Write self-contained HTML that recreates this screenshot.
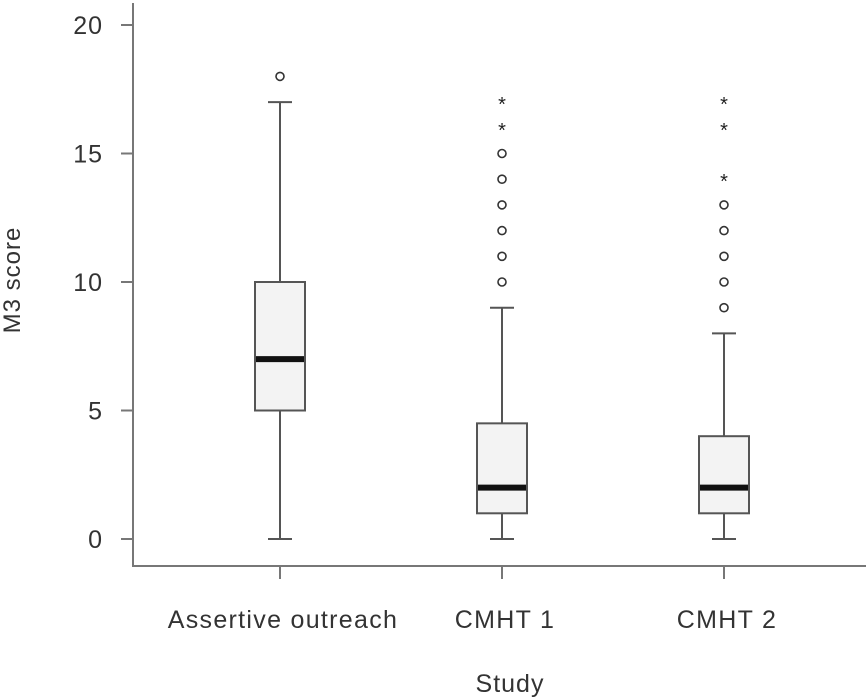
<!DOCTYPE html>
<html><head><meta charset="utf-8"><style>
body{margin:0;background:#fff;}
svg{display:block;font-family:"Liberation Sans",sans-serif;}
</style></head><body>
<svg id="chart" width="866" height="697" viewBox="0 0 866 697" xmlns="http://www.w3.org/2000/svg">
<g id="axes"></g>
<g id="marks"></g>
<text transform="translate(20,280) rotate(-90)" text-anchor="middle" font-size="24" letter-spacing="1" fill="#333">M3 score</text>
<text x="510" y="692" text-anchor="middle" font-size="25" letter-spacing="1" fill="#333">Study</text>
</svg>
<script>
const categories=["Assertive outreach","CMHT 1","CMHT 2"];
const mins=[0,0,0];
const q1s=[5,1,1];
const medians=[7,2,2];
const q3s=[10,4.5,4];
const maxs=[17,9,8];
const circleOutliers=[[18],[10,11,12,13,14,15],[9,10,11,12,13]];
const starOutliers=[[],[16,17],[14,16,17]];
const yTicks=[0,5,10,15,20];

const NS="http://www.w3.org/2000/svg";
const y=v=>539-v*25.7;
const x=i=>280+i*222;
const axes=document.getElementById('axes'),marks=document.getElementById('marks');
function mk(p,tag,at){const e=document.createElementNS(NS,tag);for(const k in at)e.setAttribute(k,at[k]);p.appendChild(e);return e;}
let e;
e=mk(axes,'line',{x1:133,y1:3,x2:133,y2:566,stroke:'#777','stroke-width':2});


e=mk(axes,'line',{x1:132,y1:566,x2:866,y2:566,stroke:'#777','stroke-width':2});


yTicks.forEach(t=>{
  e=mk(axes,'line',{x1:121,y1:y(t),x2:133,y2:y(t),stroke:'#777','stroke-width':2});
  
  
  e=mk(axes,'text',{x:103,y:y(t)+9,'text-anchor':'end','font-size':25,'letter-spacing':1,fill:'#333'});
  e.textContent=t;
  
  
});
categories.forEach((c,i)=>{
  const cx=x(i);
  e=mk(axes,'line',{x1:cx,y1:566,x2:cx,y2:579,stroke:'#777','stroke-width':2});
  
  
  e=mk(axes,'text',{x:cx+3,y:628,'text-anchor':'middle','font-size':25,'letter-spacing':1.3,fill:'#333'});
  e.textContent=c;
  
  
  const st={stroke:'#555','stroke-width':2};
  e=mk(marks,'line',Object.assign({x1:cx,y1:y(maxs[i]),x2:cx,y2:y(mins[i])},st));
  
  
  [mins[i],maxs[i]].forEach(v=>{
    e=mk(marks,'line',Object.assign({x1:cx-12,y1:y(v),x2:cx+12,y2:y(v)},st));
    
    
  });
  e=mk(marks,'rect',Object.assign({x:cx-25,y:y(q3s[i]),width:50,height:y(q1s[i])-y(q3s[i]),fill:'#f3f3f3'},st));
  
  
  e=mk(marks,'line',{x1:cx-24,y1:y(medians[i]),x2:cx+24,y2:y(medians[i]),stroke:'#111','stroke-width':6});
  
  
  circleOutliers[i].forEach(v=>{
    e=mk(marks,'circle',{cx:cx,cy:y(v),r:4,fill:'none',stroke:'#333','stroke-width':1.6});
    
    
  });
  starOutliers[i].forEach(v=>{
    e=mk(marks,'text',{x:cx,y:y(v)+9,'text-anchor':'middle','font-size':20,fill:'#222'});
    e.textContent='*';
    
    
  });
});
</script>
</body></html>
